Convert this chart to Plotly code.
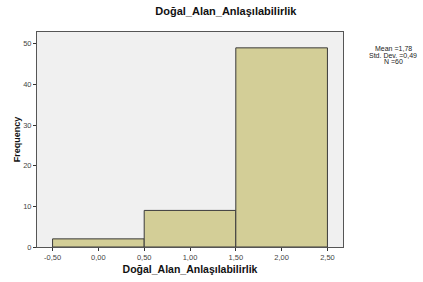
import plotly.graph_objects as go

bin_centers = [0.0, 1.0, 2.0]
frequencies = [2, 9, 49]
x_tick_vals = [-0.5, 0.0, 0.5, 1.0, 1.5, 2.0, 2.5]
x_tick_text = ["-0,50", "0,00", "0,50", "1,00", "1,50", "2,00", "2,50"]
y_tick_vals = [0, 10, 20, 30, 40, 50]
stats_lines = ["Mean =1,78", "Std. Dev. =0,49", "N =60"]
title_text = "Doğal_Alan_Anlaşılabilirlik"

L, R, T, B = 37, 80, 32, 35
W, H = 423, 282
pw = W - L - R
ph = H - T - B

fig = go.Figure()
fig.add_trace(go.Bar(
    x=bin_centers, y=frequencies, width=1.0,
    marker=dict(color="#D3CE97", line=dict(color="#3a3a3a", width=1)),
    hoverinfo="skip",
))

annotations = []
for i, line in enumerate(stats_lines):
    yc = 48.5 + 6.5 * i
    annotations.append(dict(text=line, x=(393 - L) / pw, y=(H - B - yc) / ph,
                            xref="paper", yref="paper", showarrow=False,
                            xanchor="center", yanchor="middle",
                            font=dict(size=7, color="#222222")))

fig.update_layout(
    width=W, height=H,
    margin=dict(l=L, r=R, t=T, b=B, autoexpand=False),
    paper_bgcolor="white", plot_bgcolor="#F0F0F0",
    showlegend=False,
    font=dict(family="Arial, Liberation Sans, sans-serif", size=7.5, color="#444444"),
    title=dict(text="<b>" + title_text + "</b>", x=0.534, xanchor="center",
               y=1 - 11 / H, yanchor="middle", xref="container", yref="container",
               font=dict(size=11, color="#111111")),
    xaxis=dict(range=[-0.67, 2.67], tickvals=x_tick_vals, ticktext=x_tick_text,
               ticks="outside", ticklen=3, tickcolor="#333333", showgrid=False,
               zeroline=False, showline=True, linecolor="#555555", mirror=True,
               automargin=False,
               title=dict(text="<b>" + title_text + "</b>", standoff=4,
                          font=dict(size=10.5, color="#111111"))),
    yaxis=dict(range=[0, 52.9], tickvals=y_tick_vals,
               ticks="outside", ticklen=3, tickcolor="#333333", showgrid=False,
               zeroline=False, showline=True, linecolor="#555555", mirror=True,
               automargin=False,
               title=dict(text="<b>Frequency</b>", standoff=1,
                          font=dict(size=9, color="#111111"))),
    annotations=annotations,
)

fig.write_html("out.html", config={"displayModeBar": False},
               post_script="document.body.style.margin='0';document.body.style.overflow='hidden';")
